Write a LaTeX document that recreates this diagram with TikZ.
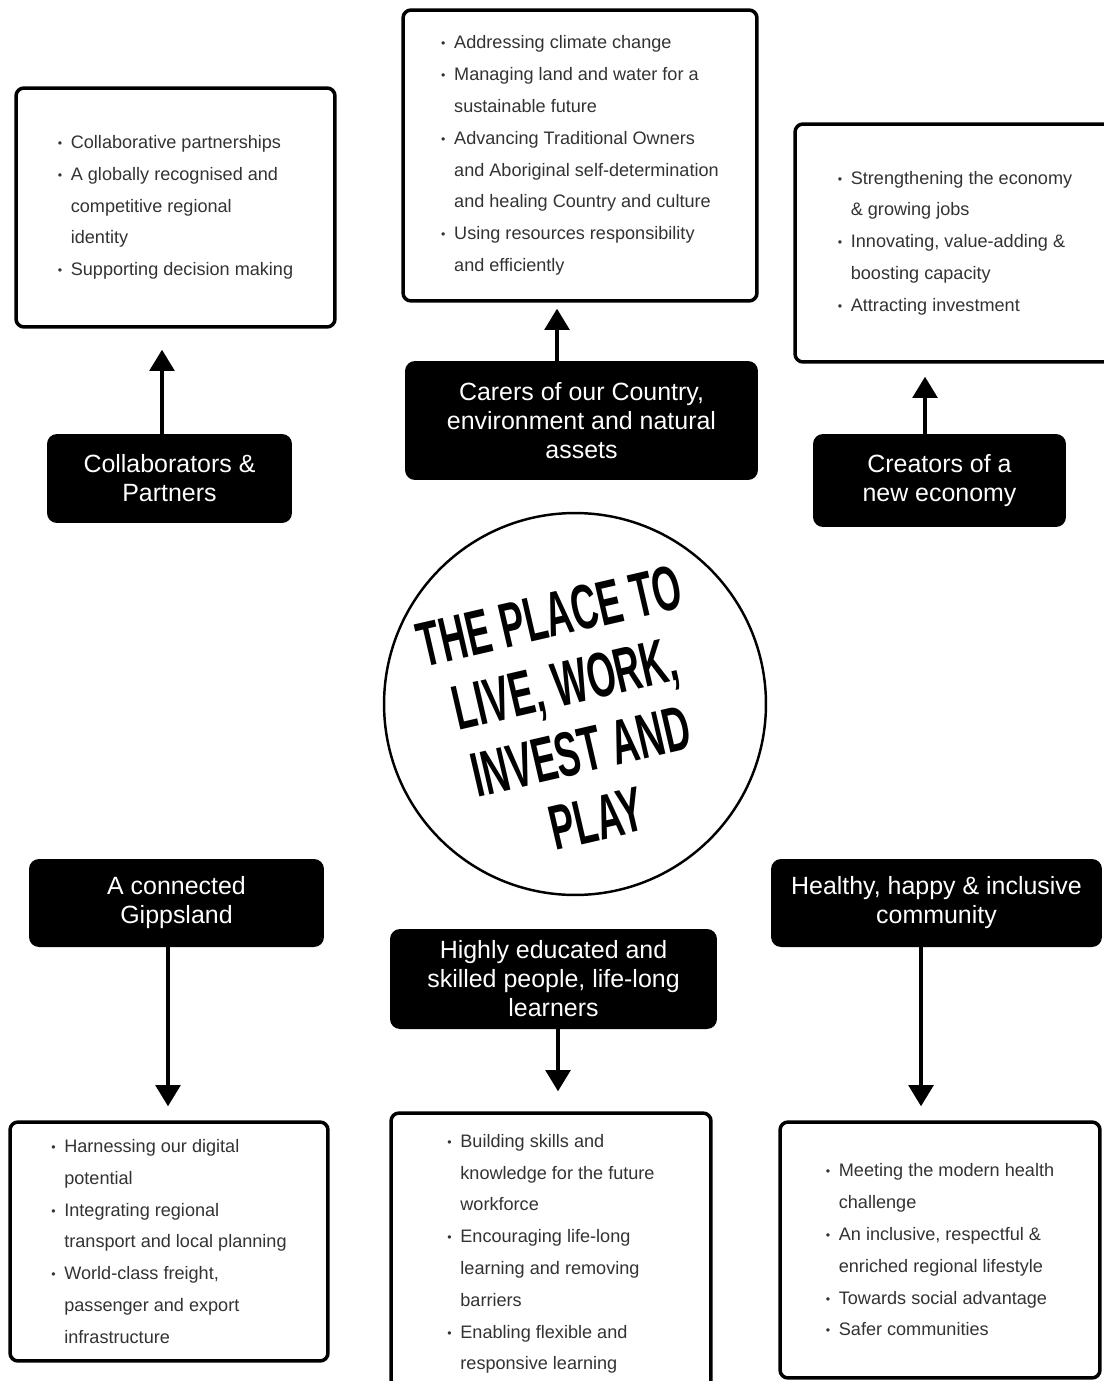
\documentclass[tikz,border=0pt]{standalone}
\usepackage{fontspec}
\setmainfont{Liberation Sans}
\newfontfamily\titre[FakeStretch=0.58]{Liberation Sans}
\usepackage{tikz}
\usetikzlibrary{arrows.meta,positioning}
\definecolor{texte}{HTML}{333333}
\newcommand\puce{\makebox[0.26cm][l]{\raisebox{0.6pt}{\fontsize{7}{7}\selectfont\textbullet}}}
\newcommand\suite{\hspace*{0.26cm}}

\begin{document}
\begin{tikzpicture}[
    x=0.02cm, y=-0.02cm,
    pilier/.style={rectangle, rounded corners=0.2cm, fill=black, text=white,
      font=\fontsize{14.2}{16.5}\selectfont, align=center, inner sep=0pt},
    liste/.style={rectangle, rounded corners=0.16cm, draw=black, line width=2pt,
      fill=white, text=texte, font=\fontsize{10.3}{18.1}\selectfont,
      align=left, inner sep=0pt},
    centre/.style={circle, draw=black, line width=1.4pt, minimum size=7.64cm,
      inner sep=0pt},
    slogan/.style={align=center, inner sep=0pt,
      font=\titre\bfseries\fontsize{36}{39.5}\selectfont},
    fleche/.style={-{Triangle[width=14pt,length=12pt]}, line width=2pt}
  ]
    \path[use as bounding box, fill=white] (0,0) rectangle (1104,1381);
    \node[centre] (lieu) at (575,704) {};
    \node[slogan, rotate=13] (devise) at ([xshift=-0.04cm,yshift=-0.26cm]lieu.center) {THE PLACE TO\\LIVE, WORK,\\INVEST AND\\PLAY};
    \node[pilier, minimum width=4.9cm, minimum height=1.78cm] (collab) at (169.5,478.5) {Collaborators \&\\Partners};
    \node[pilier, minimum width=7.06cm, minimum height=2.38cm] (carers) at (581.5,420.5) {Carers of our Country,\\environment and natural\\assets};
    \node[pilier, minimum width=5.06cm, minimum height=1.86cm] (creators) at (939.5,480.5) {Creators of a\\new economy};
    \node[pilier, minimum width=5.9cm, minimum height=1.76cm] (connected) at (176.5,903) {A connected\\Gippsland};
    \node[pilier, minimum width=6.54cm, minimum height=2cm] (educated) at (553.5,979) {Highly educated and\\skilled people, life-long\\learners};
    \node[pilier, minimum width=6.62cm, minimum height=1.76cm] (healthy) at (936.5,903) {Healthy, happy \& inclusive\\community};
    \node[liste, minimum width=6.38cm, minimum height=4.78cm] (collabliste) at (175.5,207.5) {
      \puce Collaborative partnerships\\
      \puce A globally recognised and\\
      \suite competitive regional\\
      \suite identity\\
      \puce Supporting decision making};
    \node[liste, minimum width=7.08cm, minimum height=5.82cm] (carersliste) at (580,155.5) {
      \puce Addressing climate change\\
      \puce Managing land and water for a\\
      \suite sustainable future\\
      \puce Advancing Traditional Owners\\
      \suite and Aboriginal self-determination\\
      \suite and healing Country and culture\\
      \puce Using resources responsibility\\
      \suite and efficiently};
    \node[liste, minimum width=6.4cm, minimum height=4.76cm] (creatorsliste) at (955,243) {
      \puce Strengthening the economy\\
      \suite \& growing jobs\\
      \puce Innovating, value-adding \&\\
      \suite boosting capacity\\
      \puce Attracting investment};
    \node[liste, minimum width=6.36cm, minimum height=4.78cm] (connectedliste) at (169,1241.5) {
      \puce Harnessing our digital\\
      \suite potential\\
      \puce Integrating regional\\
      \suite transport and local planning\\
      \puce World-class freight,\\
      \suite passenger and export\\
      \suite infrastructure};
    \node[liste, minimum width=6.4cm, minimum height=5.64cm] (educatedliste) at (551,1254) {
      \puce Building skills and\\
      \suite knowledge for the future\\
      \suite workforce\\
      \puce Encouraging life-long\\
      \suite learning and removing\\
      \suite barriers\\
      \puce Enabling flexible and\\
      \suite responsive learning};
    \node[liste, minimum width=6.4cm, minimum height=5.12cm] (healthyliste) at (940,1250) {
      \puce Meeting the modern health\\
      \suite challenge\\
      \puce An inclusive, respectful \&\\
      \suite enriched regional lifestyle\\
      \puce Towards social advantage\\
      \puce Safer communities};
    \draw[fleche, shorten >=0.42cm] ([xshift=-0.15cm]collab.north) -- ([xshift=-0.15cm]collab.north |- collabliste.south);
    \draw[fleche, shorten >=0.12cm] ([xshift=-0.49cm]carers.north) -- ([xshift=-0.49cm]carers.north |- carersliste.south);
    \draw[fleche, shorten >=0.26cm] ([xshift=-0.29cm]creators.north) -- ([xshift=-0.29cm]creators.north |- creatorsliste.south);
    \draw[fleche, shorten >=0.28cm] ([xshift=-0.17cm]connected.south) -- ([xshift=-0.17cm]connected.south |- connectedliste.north);
    \draw[fleche, shorten >=0.4cm] ([xshift=0.09cm]educated.south) -- ([xshift=0.09cm]educated.south |- educatedliste.north);
    \draw[fleche, shorten >=0.28cm] ([xshift=-0.31cm]healthy.south) -- ([xshift=-0.31cm]healthy.south |- healthyliste.north);
  \end{tikzpicture}
\end{document}
